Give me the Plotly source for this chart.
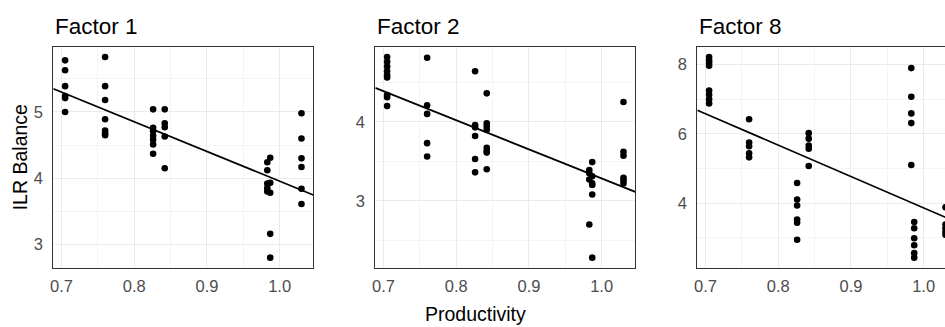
import numpy as np
import plotly.graph_objects as go

# ---------------- data ----------------
productivity_levels = [0.705, 0.76, 0.826, 0.842, 0.983, 0.987, 1.03]

f1_x = ([0.705] * 6 + [0.76] * 7 + [0.826] * 7 + [0.842] * 5 +
        [0.983] * 5 + [0.987] * 5 + [1.03] * 6)
f1_y = [5.78, 5.63, 5.39, 5.24, 5.21, 5.00,
        5.83, 5.39, 5.18, 4.89, 4.72, 4.68, 4.65,
        5.04, 4.76, 4.71, 4.64, 4.58, 4.51, 4.37,
        5.04, 4.83, 4.77, 4.63, 4.15,
        4.24, 4.12, 3.92, 3.85, 3.80,
        4.31, 3.93, 3.78, 3.16, 2.80,
        4.98, 4.60, 4.30, 4.17, 3.84, 3.61]

f2_x = ([0.705] * 9 + [0.76] * 5 + [0.826] * 6 + [0.842] * 8 +
        [0.983] * 4 + [0.987] * 6 + [1.03] * 6)
f2_y = [4.82, 4.76, 4.70, 4.64, 4.59, 4.56, 4.34, 4.31, 4.20,
        4.81, 4.21, 4.10, 3.73, 3.56,
        4.64, 3.96, 3.93, 3.82, 3.53, 3.36,
        4.36, 3.98, 3.94, 3.90, 3.67, 3.63, 3.61, 3.40,
        3.39, 3.35, 3.27, 2.70,
        3.49, 3.31, 3.22, 3.20, 3.08, 2.28,
        4.25, 3.62, 3.57, 3.29, 3.26, 3.22]

f8_x = ([0.705] * 8 + [0.76] * 5 + [0.826] * 6 + [0.842] * 5 +
        [0.983] * 5 + [0.987] * 6 + [1.03] * 5)
f8_y = [8.22, 8.13, 8.05, 7.97, 7.25, 7.13, 7.00, 6.88,
        6.42, 5.75, 5.64, 5.44, 5.32,
        4.58, 4.10, 3.93, 3.52, 3.43, 2.94,
        6.02, 5.86, 5.66, 5.57, 5.07,
        7.90, 7.07, 6.59, 6.31, 5.10,
        3.45, 3.27, 2.98, 2.78, 2.55, 2.42,
        3.88, 3.38, 3.27, 3.17, 3.08]

# linear fit lines (intercept, slope)
fit_intercept = [8.44, 6.966, 12.93]
fit_slope = [-4.485, -3.683, -9.07]

panel_titles = ["Factor 1", "Factor 2", "Factor 8"]
x_tick_vals = [0.7, 0.8, 0.9, 1.0]
x_tick_text = ["0.7", "0.8", "0.9", "1.0"]
y_tick_vals = [[3, 4, 5], [3, 4], [4, 6, 8]]
y_minor_dtick = [0.5, 0.5, 1.0]

# ---------------- layout geometry ----------------
W, H = 945, 327
panel_left = [53.3, 375.3, 697.3]
panel_w = 260.0
panel_top, panel_bottom = 47.0, 267.7

FONT = "Liberation Sans, Arial, sans-serif"
GRID = "#EBEBEB"
MINOR = "#F4F4F4"
BORDER = "#333333"
TICKC = "#4D4D4D"

datasets = [(f1_x, f1_y), (f2_x, f2_y), (f8_x, f8_y)]

fig = go.Figure()

xmin, xmax = min(productivity_levels), max(productivity_levels)
xpad = 0.05 * (xmax - xmin)
xr = [xmin - xpad, xmax + xpad]

for i, (xs, ys) in enumerate(datasets):
    suffix = "" if i == 0 else str(i + 1)
    ys_a = np.array(ys)
    ymin, ymax = ys_a.min(), ys_a.max()
    ypad = 0.05 * (ymax - ymin)
    yr = [ymin - ypad, ymax + ypad]

    left = panel_left[i]
    right = left + panel_w
    last = right > W
    if last:
        # panel is cut by the image edge
        vis = (W - left) / panel_w
        xr_i = [xr[0], xr[0] + vis * (xr[1] - xr[0])]
        right = W
    else:
        xr_i = xr

    line_x = np.array(xr)
    fig.add_trace(go.Scatter(
        x=line_x, y=fit_intercept[i] + fit_slope[i] * line_x, mode="lines",
        line=dict(color="black", width=1.7),
        xaxis="x" + suffix, yaxis="y" + suffix, showlegend=False,
        hoverinfo="skip"))
    fig.add_trace(go.Scatter(
        x=xs, y=ys, mode="markers",
        marker=dict(color="black", size=6.6),
        xaxis="x" + suffix, yaxis="y" + suffix, showlegend=False))

    fig.layout["xaxis" + suffix] = dict(
        domain=[left / W, right / W], range=xr_i, anchor="y" + suffix,
        tickvals=x_tick_vals, ticktext=x_tick_text,
        showgrid=True, gridcolor=GRID, gridwidth=1.4,
        minor=dict(showgrid=True, gridcolor=MINOR, gridwidth=0.8, dtick=0.05, tick0=0.7),
        showline=True, linecolor=BORDER, linewidth=1.3, mirror=True,
        zeroline=False, ticks="", ticklabelstandoff=3,
        tickfont=dict(family=FONT, size=16.5, color=TICKC),
        automargin=False, fixedrange=True)
    fig.layout["yaxis" + suffix] = dict(
        domain=[1 - panel_bottom / H, 1 - panel_top / H], range=yr,
        anchor="x" + suffix,
        tickvals=y_tick_vals[i],
        showgrid=True, gridcolor=GRID, gridwidth=1.4,
        minor=dict(showgrid=True, gridcolor=MINOR, gridwidth=0.8,
                   dtick=y_minor_dtick[i], tick0=0),
        showline=True, linecolor=BORDER, linewidth=1.3,
        mirror=False if last else True,
        zeroline=False, ticks="", ticklabelstandoff=6,
        tickfont=dict(family=FONT, size=16.5, color=TICKC),
        automargin=False, fixedrange=True)

    fig.add_annotation(
        text=panel_titles[i], x=left / W, y=1 - 26 / H,
        xref="paper", yref="paper", xanchor="left", yanchor="middle",
        showarrow=False, font=dict(family=FONT, size=22.5, color="black"))

fig.add_annotation(
    text="ILR Balance", x=20 / W, y=1 - 157.3 / H, xref="paper", yref="paper",
    xanchor="center", yanchor="middle", textangle=-90, showarrow=False,
    font=dict(family=FONT, size=19.5, color="black"))
fig.add_annotation(
    text="Productivity", x=476 / W, y=1 - 314 / H, xref="paper", yref="paper",
    xanchor="center", yanchor="middle", showarrow=False,
    font=dict(family=FONT, size=19.5, color="black"))

fig.update_layout(
    width=W, height=H, margin=dict(l=0, r=0, t=0, b=0, pad=0),
    paper_bgcolor="white", plot_bgcolor="white", showlegend=False)

fig.write_html("out.html", config={"displayModeBar": False})
